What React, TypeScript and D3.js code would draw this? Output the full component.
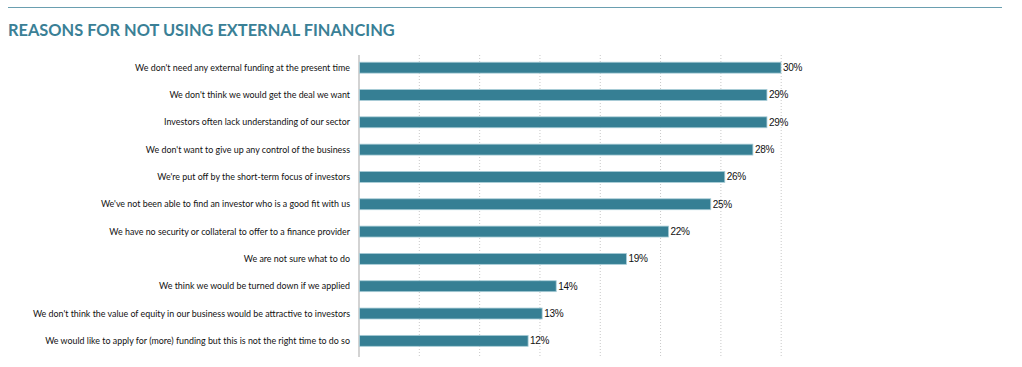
import { useEffect, useRef } from 'react'
import * as d3 from 'd3'

const reasons = [
  "We don't need any external funding at the present time",
  "We don't think we would get the deal we want",
  'Investors often lack understanding of our sector',
  "We don't want to give up any control of the business",
  "We're put off by the short-term focus of investors",
  "We've not been able to find an investor who is a good fit with us",
  'We have no security or collateral to offer to a finance provider',
  'We are not sure what to do',
  'We think we would be turned down if we applied',
  "We don't think the value of equity in our business would be attractive to investors",
  'We would like to apply for (more) funding but this is not the right time to do so',
]
const shares = [30, 29, 29, 28, 26, 25, 22, 19, 14, 13, 12]
const gridCount = 7

const App = () => {
  const chart = useRef<HTMLDivElement>(null)

  const drawChart = () => {
    const width = 1022
    const height = 367
    const left = 359
    const xMax = 780.5

    d3.select(chart.current).selectAll('*').remove()

    const svg = d3.select(chart.current)
      .append('svg')
      .attr('width', width)
      .attr('height', height)
      .style('position', 'absolute')
      .style('left', 0)
      .style('top', 0)
      .style('background', '#fff')

    // top rule + title
    svg.append('line')
      .attr('x1', 8).attr('x2', 1002)
      .attr('y1', 7.5).attr('y2', 7.5)
      .attr('stroke', '#6a9fb0')
      .attr('stroke-width', 1.2)
    svg.append('text')
      .attr('x', 8)
      .attr('y', 36)
      .attr('fill', '#3a8096')
      .style('font-family', 'Lato, sans-serif')
      .style('font-weight', 700)
      .style('font-size', '16.4px')
      .text('REASONS FOR NOT USING EXTERNAL FINANCING')

    const x = d3.scaleLinear().domain([0, 30]).range([left, xMax])
    const y = d3.scaleBand()
      .domain(reasons)
      .range([54, 354.5])
      .paddingInner(0.6)
      .paddingOuter(0.3)

    // dotted grid
    const gridVals = d3.range(1, gridCount + 1).map(i => (i * 30.05) / gridCount)
    svg.selectAll('.gridline')
      .data(gridVals)
      .enter().append('line')
      .attr('class', 'gridline')
      .attr('x1', d => x(d)).attr('x2', d => x(d))
      .attr('y1', 55).attr('y2', 357)
      .attr('stroke', '#c8c8c8')
      .attr('stroke-width', 1)
      .attr('stroke-dasharray', '1,2')

    // axis line
    svg.append('line')
      .attr('x1', left).attr('x2', left)
      .attr('y1', 55).attr('y2', 357)
      .attr('stroke', '#c4c4c4')
      .attr('stroke-width', 1.5)

    // bars
    svg.selectAll('.bar')
      .data(shares)
      .enter().append('rect')
      .attr('class', 'bar')
      .attr('x', x(0) + 0.5)
      .attr('y', (d, i) => y(reasons[i]) as number)
      .attr('width', d => x(d) - x(0))
      .attr('height', y.bandwidth())
      .attr('fill', '#367f94')
      .attr('stroke', '#a9cdd7')
      .attr('stroke-width', 0.8)

    // category labels
    svg.selectAll('.cat')
      .data(reasons)
      .enter().append('text')
      .attr('class', 'cat')
      .attr('x', 350)
      .attr('y', d => (y(d) as number) + y.bandwidth() / 2)
      .attr('dy', '0.35em')
      .attr('text-anchor', 'end')
      .attr('fill', '#111')
      .style('font-family', 'Lato, sans-serif')
      .style('font-size', '8.9px')
      .text(d => d)

    // value labels
    svg.selectAll('.val')
      .data(shares)
      .enter().append('text')
      .attr('class', 'val')
      .attr('x', d => x(d) + 2.5)
      .attr('y', (d, i) => (y(reasons[i]) as number) + y.bandwidth() / 2)
      .attr('dy', '0.35em')
      .attr('fill', '#111')
      .style('font-family', 'Liberation Sans, sans-serif')
      .style('font-size', '10px')
      .style('letter-spacing', '-0.3px')
      .text(d => d + '%')
  }

  useEffect(() => {
    drawChart()
  }, [])

  return <div ref={chart}></div>
}

export default App
